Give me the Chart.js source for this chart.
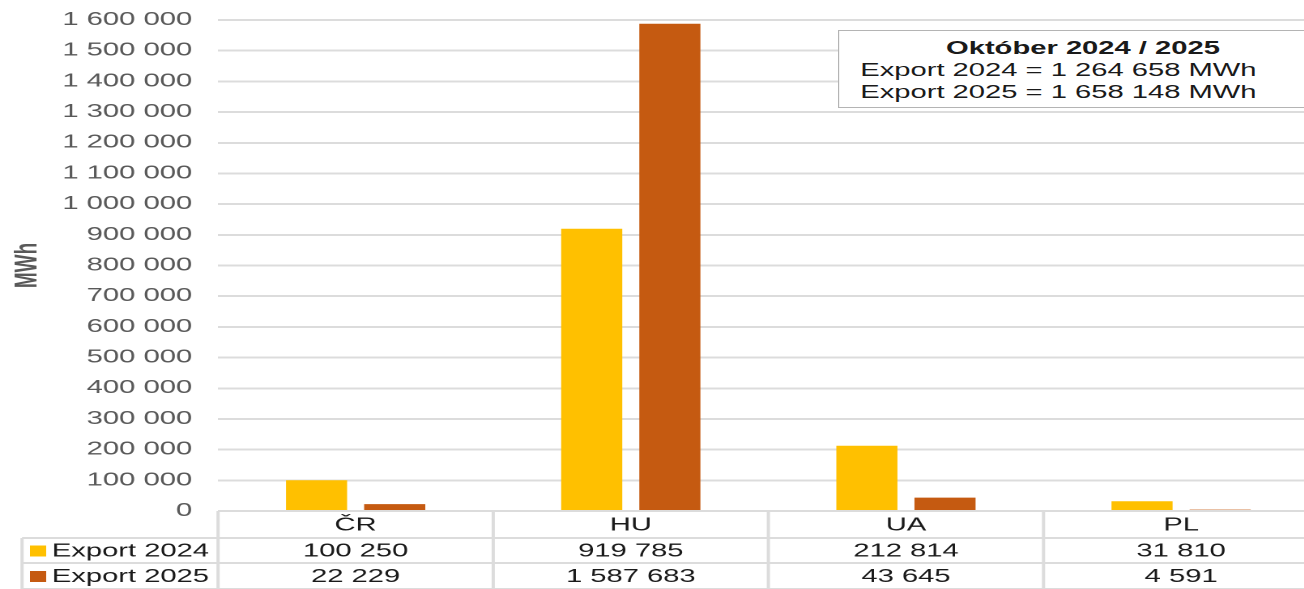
<!DOCTYPE html>
<html lang="sk">
<head>
  <meta charset="UTF-8" />
  <title>Export Október 2024 / 2025</title>
  <style>
    body {
      margin: 0;
      background: #fff;
      overflow: hidden;
      font-family: "Liberation Sans", Arial, sans-serif;
    }
    /* the original picture is stretched sideways, so the whole chart is too */
    #wrap {
      position: relative;
      width: 815px;
      height: 589px;
      transform: scaleX(1.62);
      transform-origin: 0 0;
    }
    #info {
      position: absolute;
      left: 517px;
      top: 30px;
      width: 301px;
      height: 70px;
      padding-top: 6px;
      box-sizing: content-box;
      border: 1.5px solid #b4b4b4;
      background: #fff;
      font-size: 18px;
      line-height: 22px;
      color: #1a1a1a;
    }
    #info .t {
      text-align: center;
      font-weight: bold;
    }
    #info .l {
      padding-left: 13px;
    }
  </style>
  <script src="https://cdn.jsdelivr.net/npm/chart.js"></script>
</head>
<body>
  <div id="wrap">
    <canvas id="graf"></canvas>
    <div id="info">
      <div class="t">Október 2024 / 2025</div>
      <div class="l">Export 2024 = 1 264 658 MWh</div>
      <div class="l">Export 2025 = 1 658 148 MWh</div>
    </div>
  </div>

  <script>
    const krajiny = ["ČR", "HU", "UA", "PL"];
    const export2024 = [100250, 919785, 212814, 31810];
    const export2025 = [22229, 1587683, 43645, 4591];
    const serie = ["Export 2024", "Export 2025"];
    const farby = ["#ffc000", "#c55a11"];
    const yMax = 1600000;
    const yKrok = 100000;

    const mriezka = "#dcdcdc";

    function cislo(v) {
      return String(v).replace(/\B(?=(\d{3})+(?!\d))/g, " ");
    }

    // tabulka s hodnotami pod grafom
    const tabulka = {
      id: "tabulka",
      afterDraw(chart) {
        const ctx = chart.ctx;
        const x = chart.scales.x;
        const a = chart.chartArea;
        const sirka = x.getPixelForValue(1) - x.getPixelForValue(0);
        const r0 = a.bottom;
        const r1 = 538, r2 = 563, r3 = 589;
        const lavo = 13.6;

        ctx.save();
        ctx.strokeStyle = mriezka;
        ctx.lineWidth = 2;
        ctx.beginPath();
        ctx.moveTo(a.left, r0); ctx.lineTo(a.right, r0);
        ctx.moveTo(lavo, r1); ctx.lineTo(a.right, r1);
        ctx.moveTo(lavo, r2); ctx.lineTo(a.right, r2);
        ctx.moveTo(lavo, r3); ctx.lineTo(a.right, r3);
        ctx.moveTo(lavo, r1); ctx.lineTo(lavo, r3);
        for (let i = 0; i <= krajiny.length; i++) {
          const px = a.left + i * sirka;
          ctx.moveTo(px, r0); ctx.lineTo(px, r3);
        }
        ctx.stroke();

        ctx.font = "18px 'Liberation Sans', Arial, sans-serif";
        ctx.fillStyle = "#1a1a1a";
        ctx.textAlign = "center";
        ctx.textBaseline = "middle";
        krajiny.forEach((k, i) => {
          const px = x.getPixelForValue(i);
          ctx.fillText(k, px, (r0 + r1) / 2 + 1);
          ctx.fillText(cislo(export2024[i]), px, (r1 + r2) / 2 + 1);
          ctx.fillText(cislo(export2025[i]), px, (r2 + r3) / 2 + 1);
        });

        ctx.textAlign = "left";
        [export2024, export2025].forEach((_, s) => {
          const cy = s === 0 ? (r1 + r2) / 2 : (r2 + r3) / 2;
          ctx.fillStyle = farby[s];
          ctx.fillRect(18.5, cy - 5, 10, 11);
          ctx.fillStyle = "#1a1a1a";
          ctx.fillText(serie[s], 32, cy + 1);
        });
        ctx.restore();
      },
    };

    new Chart(document.getElementById("graf"), {
      type: "bar",
      data: {
        labels: krajiny,
        datasets: [
          { label: serie[0], data: export2024, backgroundColor: farby[0] },
          { label: serie[1], data: export2025, backgroundColor: farby[1] },
        ],
      },
      options: {
        responsive: true,
        maintainAspectRatio: false,
        devicePixelRatio: 2,
        animation: false,
        layout: { padding: { top: 20, bottom: 78, left: 0, right: 1 } },
        datasets: {
          bar: { categoryPercentage: 0.568, barPercentage: 0.782 },
        },
        plugins: {
          legend: { display: false },
          tooltip: { enabled: false },
        },
        scales: {
          x: { display: false },
          y: {
            min: 0,
            max: yMax,
            afterFit(scale) {
              scale.width = 134.6;
              scale.paddingTop = 0;
              scale.paddingBottom = 0;
            },
            ticks: {
              stepSize: yKrok,
              padding: 16,
              color: "#595959",
              font: { family: "'Liberation Sans', Arial, sans-serif", size: 18 },
              callback: (v) => cislo(v),
            },
            grid: { color: mriezka, lineWidth: 2, drawTicks: false },
            border: { display: false },
            title: {
              display: true,
              text: "MWh",
              color: "#595959",
              padding: { top: 6, bottom: 0 },
              font: { family: "'Liberation Sans', Arial, sans-serif", size: 19, weight: "bold" },
            },
          },
        },
      },
      plugins: [tabulka],
    });
  </script>
</body>
</html>
